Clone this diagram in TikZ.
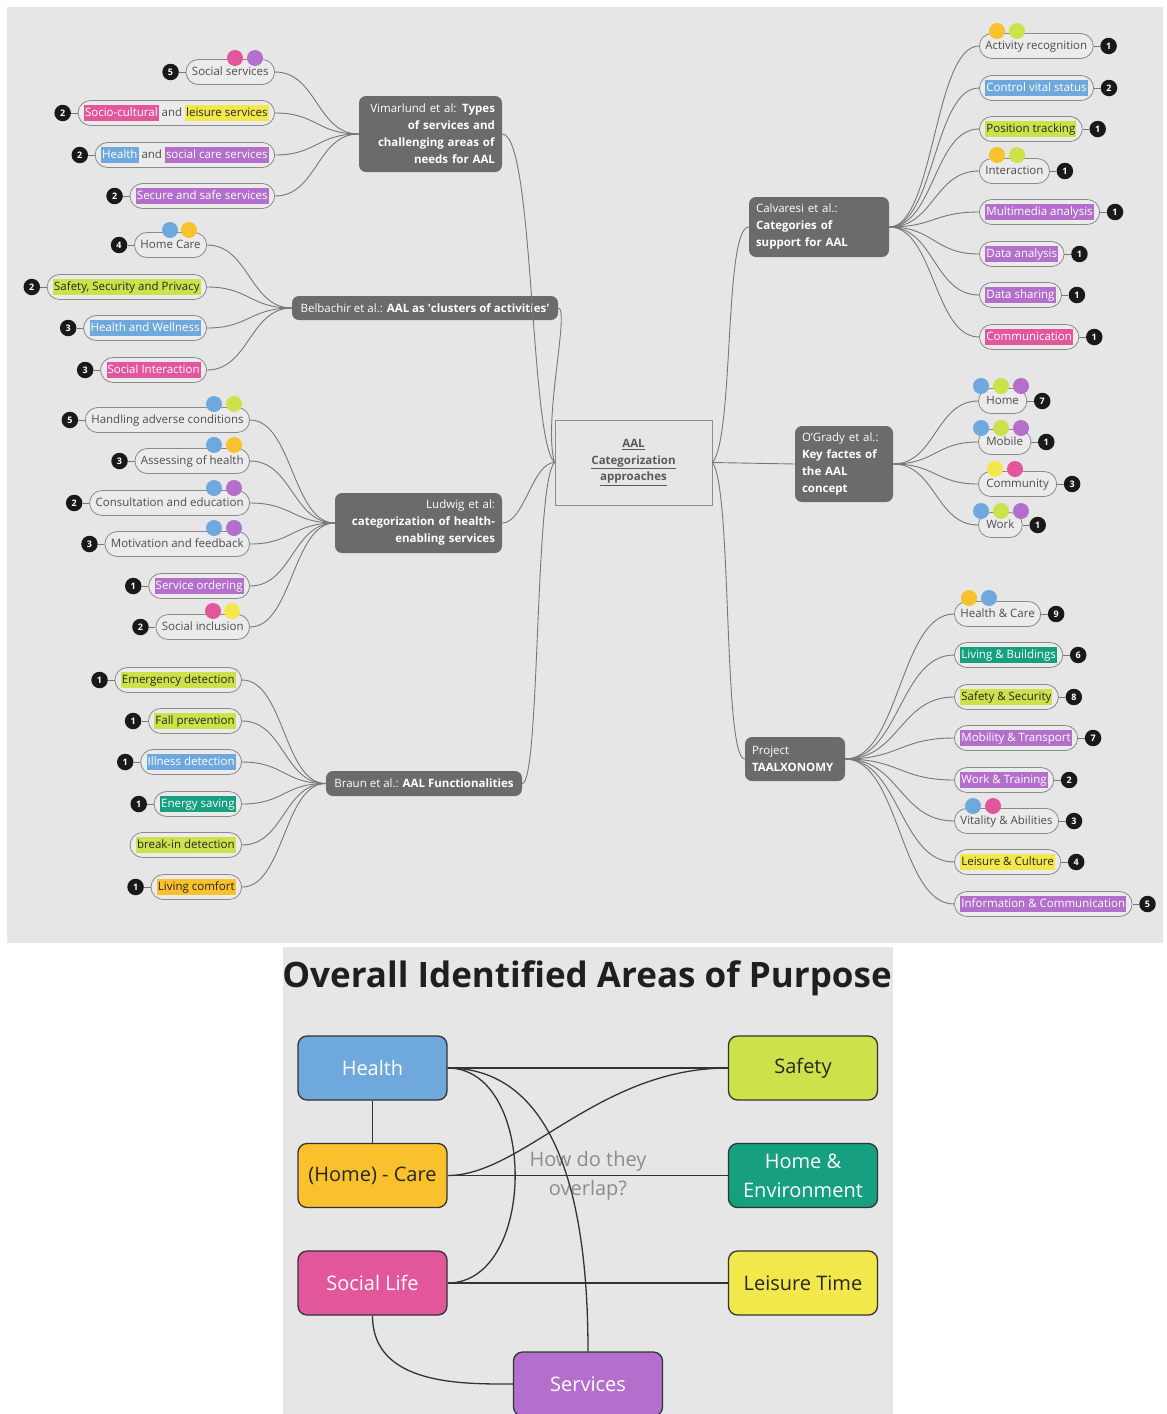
\documentclass[tikz,border=0pt]{standalone}
\usepackage{fontspec}
\setmainfont{Open Sans}
\usetikzlibrary{calc}

\definecolor{bgpanel}{HTML}{E6E6E6}
\definecolor{hubfill}{HTML}{6B6B6B}
\definecolor{pillfill}{HTML}{EBEBEB}
\definecolor{pillline}{HTML}{8A8A8A}
\definecolor{linkcol}{HTML}{777777}
\definecolor{textgray}{HTML}{4D4D4D}
\definecolor{cBlue}{HTML}{6FA8DC}
\definecolor{cPink}{HTML}{E2579B}
\definecolor{cPurple}{HTML}{B36FCB}
\definecolor{cLime}{HTML}{CDE24A}
\definecolor{cYellow}{HTML}{F2E84B}
\definecolor{cAmber}{HTML}{F9C12B}
\definecolor{cTeal}{HTML}{16A07F}

% highlighted words inside the leaf labels
\newcommand\hs{\rule[-4pt]{0pt}{14pt}}
\newcommand\hlw[2]{{\setlength\fboxsep{1pt}\colorbox{#1}{\color{white}\hs #2}}}
\newcommand\hld[2]{{\setlength\fboxsep{1pt}\colorbox{#1}{\color{black!85}\hs #2}}}

% leaf on the left side: name, east x, y, count, label
\newcommand\leafL[5]{%
  \node[pill,anchor=east] (#1) at (#2,#3) {\hs #5};
  \node[badge] (#1n) at ($(#1.west)+(-15,0)$) {#4};
  \draw[tick] (#1n) -- (#1);}
% leaf on the right side: name, west x, y, count, label
\newcommand\leafR[5]{%
  \node[pill,anchor=west] (#1) at (#2,#3) {\hs #5};
  \node[badge] (#1n) at ($(#1.east)+(15,0)$) {#4};
  \draw[tick] (#1n) -- (#1);}
% coloured marker dot: name, colour, x, y
\newcommand\bub[4]{\node[bubble,fill=#2] (#1) at (#3,#4) {};}

\begin{document}
\begin{tikzpicture}[x=1pt,y=-1pt,
  pill/.style={draw=pillline, fill=pillfill, rounded corners=12.5pt, minimum height=25pt,
    inner xsep=6pt, inner ysep=0pt, line width=0.8pt, text=textgray,
    font=\fontsize{11.5}{13.5}\selectfont},
  badge/.style={circle, fill=black!90, text=white, minimum size=16.5pt, inner sep=0pt,
    font=\fontsize{9}{9}\selectfont\bfseries},
  bubble/.style={circle, minimum size=16pt, inner sep=0pt},
  tick/.style={draw=linkcol, line width=0.8pt},
  link/.style={draw=linkcol, line width=0.9pt},
  hub/.style={fill=hubfill, rounded corners=7pt, text=white, inner xsep=7pt, inner ysep=4pt,
    font=\fontsize{11.5}{17}\selectfont},
  bbox/.style={draw=black!80, line width=1.3pt, rounded corners=9pt, minimum width=149pt,
    minimum height=64pt, align=center, font=\fontsize{20}{29}\selectfont},
  conn/.style={draw=black!80, line width=1.3pt}]

\useasboundingbox (0,0) rectangle (1167,1414);
\fill[white] (0,0) rectangle (1167,1414);
\fill[bgpanel] (7,7) rectangle (1163,943);
\fill[bgpanel] (283,947) rectangle (893,1414);

% ---------- central node and category hubs ----------
\node[draw=black!45, line width=0.8pt, minimum width=157pt, minimum height=85pt, align=center,
  font=\fontsize{11.5}{16.5}\selectfont\bfseries, text=black!65] (aal) at (633.5,462.5)
  {\underline{AAL}\\\underline{Categorization}\\\underline{approaches}};

\node[hub, text width=129pt, align=right, minimum height=76pt] (vim) at (430.5,134)
  {Vimarlund et al: \textbf{Types}\\\textbf{of services and}\\\textbf{challenging areas of}\\\textbf{needs for AAL}};
\node[hub, minimum width=266pt, minimum height=24pt] (bel) at (425,308)
  {Belbachir et al.: \textbf{AAL as \textquotesingle clusters of activities\textquotesingle}};
\node[hub, text width=153pt, align=right, minimum height=60pt] (lud) at (418.5,523)
  {Ludwig et al:\\\textbf{categorization of health-}\\\textbf{enabling services}};
\node[hub, minimum width=196pt, minimum height=25pt] (bra) at (424,783.5)
  {Braun et al.: \textbf{AAL Functionalities}};
\node[hub, text width=126pt, align=left, minimum height=60pt] (cal) at (819,227)
  {Calvaresi et al.:\\\textbf{Categories of}\\\textbf{support for AAL}};
\node[hub, text width=84pt, align=left, minimum height=76pt] (ogr) at (844,464)
  {O'Grady et al.:\\\textbf{Key factes of}\\\textbf{the AAL}\\\textbf{concept}};
\node[hub, text width=86pt, align=left, minimum height=44pt] (taa) at (795,759)
  {Project\\\textbf{TAALXONOMY}};

\draw[link] (vim.east) .. controls +(32,0) and +(-25,-23) .. (aal.west);
\draw[link] (bel.east) .. controls +(12,0) and +(-12,-40) .. (aal.west);
\draw[link] (lud.east) .. controls +(22,0) and +(-22,0) .. (aal.west);
\draw[link] (bra.east) .. controls +(18,0) and +(-20,17) .. (aal.west);
\draw[link] (aal.east) .. controls +(22,-25) and +(-25,0) .. (cal.west);
\draw[link] (aal.east) -- (ogr.west);
\draw[link] (aal.east) .. controls +(20,25) and +(-22,0) .. (taa.west);

% ---------- Vimarlund et al. ----------
\leafL{v1}{275}{72}{5}{Social services}
\leafL{v2}{275}{113}{2}{\hlw{cPink}{Socio-cultural} and \hld{cYellow}{leisure services}}
\leafL{v3}{275}{155}{2}{\hlw{cBlue}{Health} and \hlw{cPurple}{social care services}}
\leafL{v4}{275}{196}{2}{\hlw{cPurple}{Secure and safe services}}
\bub{v1a}{cPink}{235}{58}\bub{v1b}{cPurple}{255}{58}
\foreach \l in {v1,v2,v3,v4} \draw[link] (\l.east) .. controls +(42,0) and +(-42,0) .. (vim.west);

% ---------- Belbachir et al. ----------
\leafL{b1}{207}{245}{4}{Home Care}
\leafL{b2}{207}{287}{2}{\hld{cLime}{Safety, Security and Privacy}}
\leafL{b3}{207}{328}{3}{\hlw{cBlue}{Health and Wellness}}
\leafL{b4}{207}{370}{3}{\hlw{cPink}{Social Interaction}}
\bub{b1a}{cBlue}{170}{230}\bub{b1b}{cAmber}{189}{230}
\foreach \l in {b1,b2,b3,b4} \draw[link] (\l.east) .. controls +(42,0) and +(-42,0) .. (bel.west);

% ---------- Ludwig et al. ----------
\leafL{l1}{250}{420}{5}{Handling adverse conditions}
\leafL{l2}{250}{461}{3}{Assessing of health}
\leafL{l3}{250}{503}{2}{Consultation and education}
\leafL{l4}{250}{544}{3}{Motivation and feedback}
\leafL{l5}{250}{586}{1}{\hlw{cPurple}{Service ordering}}
\leafL{l6}{250}{627}{2}{Social inclusion}
\bub{l1a}{cBlue}{214}{404}\bub{l1b}{cLime}{234}{404}
\bub{l2a}{cBlue}{214}{445}\bub{l2b}{cAmber}{234}{445}
\bub{l3a}{cBlue}{214}{488}\bub{l3b}{cPurple}{234}{488}
\bub{l4a}{cBlue}{214}{528}\bub{l4b}{cPurple}{234}{528}
\bub{l6a}{cPink}{213}{611}\bub{l6b}{cYellow}{232}{611}
\foreach \l in {l1,l2,l3,l4,l5,l6} \draw[link] (\l.east) .. controls +(42,0) and +(-42,0) .. (lud.west);

% ---------- Braun et al. ----------
\leafL{r1}{242}{680}{1}{\hld{cLime}{Emergency detection}}
\leafL{r2}{242}{721}{1}{\hld{cLime}{Fall prevention}}
\leafL{r3}{242}{762}{1}{\hlw{cBlue}{Illness detection}}
\leafL{r4}{242}{804}{1}{\hlw{cTeal}{Energy saving}}
\node[pill,anchor=east] (r5) at (242,845) {\hs\hld{cLime}{break-in detection}};
\leafL{r6}{242}{887}{1}{\hld{cAmber}{Living comfort}}
\foreach \l in {r1,r2,r3,r4,r5,r6} \draw[link] (\l.east) .. controls +(42,0) and +(-42,0) .. (bra.west);

% ---------- Calvaresi et al. ----------
\leafR{c1}{979}{46}{1}{Activity recognition}
\leafR{c2}{979}{88}{2}{\hlw{cBlue}{Control vital status}}
\leafR{c3}{979}{129}{1}{\hld{cLime}{Position tracking}}
\leafR{c4}{979}{171}{1}{Interaction}
\leafR{c5}{979}{212}{1}{\hlw{cPurple}{Multimedia analysis}}
\leafR{c6}{979}{254}{1}{\hlw{cPurple}{Data analysis}}
\leafR{c7}{979}{295}{1}{\hlw{cPurple}{Data sharing}}
\leafR{c8}{979}{337}{1}{\hlw{cPink}{Communication}}
\bub{c1a}{cAmber}{997}{31}\bub{c1b}{cLime}{1017}{31}
\bub{c4a}{cAmber}{997}{155}\bub{c4b}{cLime}{1017}{155}
\foreach \l in {c1,c2,c3,c4,c5,c6,c7,c8} \draw[link] (cal.east) .. controls +(45,0) and +(-45,0) .. (\l.west);

% ---------- O'Grady et al. ----------
\leafR{o1}{978}{401}{7}{\,Home\,}
\leafR{o2}{978}{442}{1}{\,Mobile\,}
\leafR{o3}{978}{484}{3}{\,Community\,}
\leafR{o4}{978}{525}{1}{\,Work\,}
\bub{o1a}{cBlue}{981}{386}\bub{o1b}{cLime}{1001}{386}\bub{o1c}{cPurple}{1021}{386}
\bub{o2a}{cBlue}{981}{428}\bub{o2b}{cLime}{1001}{428}\bub{o2c}{cPurple}{1021}{428}
\bub{o3a}{cYellow}{995}{469}\bub{o3b}{cPink}{1015}{469}
\bub{o4a}{cBlue}{981}{511}\bub{o4b}{cLime}{1001}{511}\bub{o4c}{cPurple}{1021}{511}
\foreach \l in {o1,o2,o3,o4} \draw[link] (ogr.east) .. controls +(42,0) and +(-42,0) .. (\l.west);

% ---------- Project TAALXONOMY ----------
\leafR{t1}{954}{614}{9}{Health \& Care}
\leafR{t2}{954}{655}{6}{\hlw{cTeal}{Living \& Buildings}}
\leafR{t3}{954}{697}{8}{\hld{cLime}{Safety \& Security}}
\leafR{t4}{954}{738}{7}{\hlw{cPurple}{Mobility \& Transport}}
\leafR{t5}{954}{780}{2}{\hlw{cPurple}{Work \& Training}}
\leafR{t6}{954}{821}{3}{Vitality \& Abilities}
\leafR{t7}{954}{862}{4}{\hld{cYellow}{Leisure \& Culture}}
\leafR{t8}{954}{904}{5}{\hlw{cPurple}{Information \& Communication}}
\bub{t1a}{cAmber}{969}{598}\bub{t1b}{cBlue}{989}{598}
\bub{t6a}{cBlue}{973}{806}\bub{t6b}{cPink}{993}{806}
\foreach \l in {t1,t2,t3,t4,t5,t6,t7,t8} \draw[link] (taa.east) .. controls +(54,0) and +(-54,0) .. (\l.west);

% ---------- overall areas of purpose ----------
\node[anchor=base, font=\fontsize{35}{40}\selectfont\bfseries, text=black!88] (title) at (587,987)
  {Overall Identified Areas of Purpose};
\node[align=center, font=\fontsize{20}{29}\selectfont, text=black!45] (ask) at (588,1176)
  {How do they\\overlap?};

\node[bbox, fill=cBlue, text=white] (health) at (372.5,1068) {Health};
\node[bbox, fill=cAmber, text=black!85] (care) at (372.5,1175.5) {(Home) - Care};
\node[bbox, fill=cPink, text=white] (social) at (372.5,1283) {Social Life};
\node[bbox, fill=cLime, text=black!85] (safety) at (803,1068) {Safety};
\node[bbox, fill=cTeal, text=white] (homeenv) at (803,1175.5) {Home \&\\Environment};
\node[bbox, fill=cYellow, text=black!85] (leisure) at (803,1283) {Leisure Time};
\node[bbox, fill=cPurple, text=white] (services) at (588,1384) {Services};

\draw[conn] (health) -- (care);
\draw[conn] (health.east) -- (safety.west);
\draw[conn] (care.east) -- (homeenv.west);
\draw[conn] (social.east) -- (leisure.west);
\draw[conn] (care.east) .. controls +(75,0) and +(-130,0) .. (safety.west);
\draw[conn] (health.east) .. controls +(90,0) and +(90,0) .. (social.east);
\draw[conn] (health.east) .. controls +(62,0) and +(0,-240) .. (services.north);
\draw[conn] (social.south) .. controls +(0,70) and +(-50,0) .. (services.west);
\end{tikzpicture}
\end{document}
